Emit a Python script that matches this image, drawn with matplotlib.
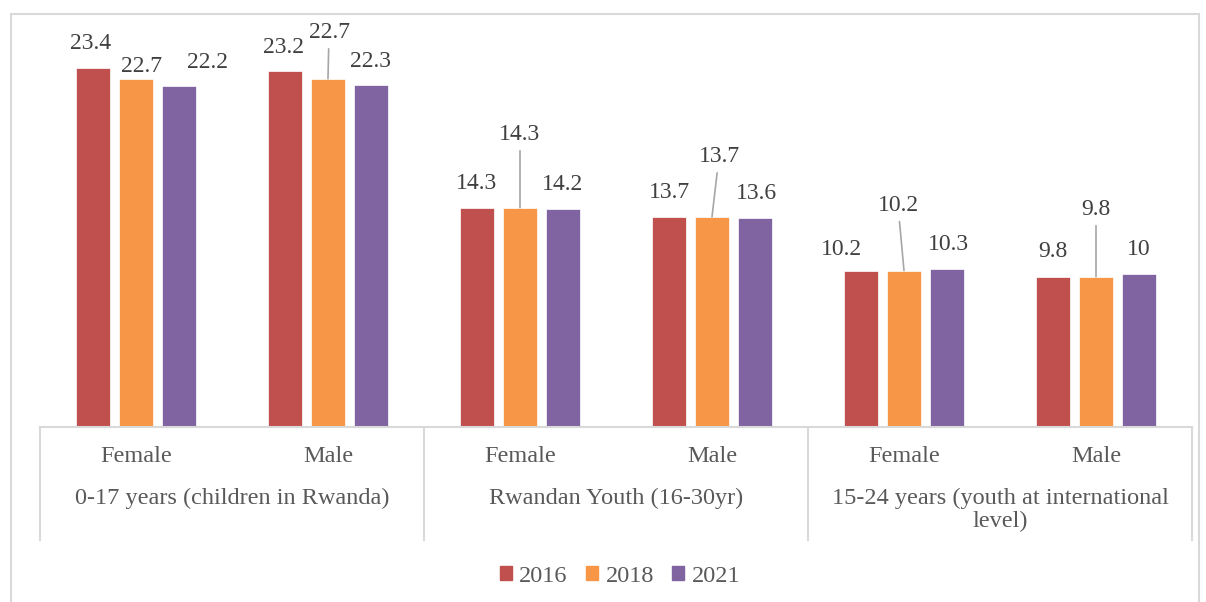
import matplotlib.pyplot as plt
import numpy as np
from matplotlib.patches import Rectangle, Patch

plt.rcParams['font.family'] = ['Liberation Serif', 'DejaVu Serif']

groups = ['0-17 years (children in Rwanda)', 'Rwandan Youth (16-30yr)',
          '15-24 years (youth at international\nlevel)']
sexes = ['Female', 'Male']
years = ['2016', '2018', '2021']
v2016 = [23.4, 23.2, 14.3, 13.7, 10.2, 9.8]
v2018 = [22.7, 22.7, 14.3, 13.7, 10.2, 9.8]
v2021 = [22.2, 22.3, 14.2, 13.6, 10.3, 10]
series = [v2016, v2018, v2021]
colors = ['#C0504D', '#F79646', '#8064A2']

# label offsets in pixels (dx, dy) from the bar top, per year then per bar
label_offsets = [
    [(-2, 25), (-1, 24), (0, 24), (0, 24), (-20, 21), (0, 25)],
    [(6, 12), (1, 46), (0, 73), (7, 60), (-6, 65), (0, 67)],
    [(28, 24), (-1, 23), (0, 25), (1, 25), (1, 24), (0, 24)],
]

fig = plt.figure(figsize=(12.06, 6.02), dpi=100)
ax = fig.add_axes([40 / 1206, 175 / 602, 1152 / 1206, 383.5 / 602])

x = np.arange(len(v2016))
pitch = 0.224
width = 0.177
for k, vals in enumerate(series):
    xs = x + (k - 1) * pitch
    ax.bar(xs, vals, width=width, color=colors[k], edgecolor='white', linewidth=0.5, zorder=2)
    for i, v in enumerate(vals):
        dx, dy = label_offsets[k][i]
        arrow = None
        if dy > 40:
            arrow = dict(arrowstyle='-', color='#a6a6a6', lw=1.2, shrinkA=2, shrinkB=0)
        ax.annotate(f'{v:g}', xy=(xs[i], v), xytext=(dx, dy), textcoords='offset pixels',
                    ha='center', va='center', fontsize=17, color='#404040',
                    arrowprops=arrow)

ax.set_xlim(-0.5, 5.5)
ax.set_ylim(0, 25)
for s in ['left', 'right', 'top']:
    ax.spines[s].set_visible(False)
ax.spines['bottom'].set_color('#d9d9d9')
ax.spines['bottom'].set_linewidth(1.5)
ax.set_xticks([])
ax.set_yticks([])

trans = ax.get_xaxis_transform()
for xb in [-0.5, 1.5, 3.5, 5.5]:
    ax.plot([xb, xb], [0, -0.295], transform=trans, color='#d9d9d9', lw=1.5, clip_on=False)

for i in x:
    ax.text(i, -0.078, sexes[i % 2], transform=trans, ha='center', va='center',
            fontsize=17.5, color='#595959')
for g, name in enumerate(groups):
    ax.text(2 * g + 0.5, -0.158, name, transform=trans, ha='center', va='top',
            fontsize=17.5, color='#595959', linespacing=1.1)

handles = [Patch(color=c, label=y) for c, y in zip(colors, years)]
fig.legend(handles=handles, loc='center', bbox_to_anchor=(620 / 1206, 1 - 576 / 602),
           ncol=3, frameon=False, fontsize=17.5, handlelength=0.5, handleheight=0.5,
           handletextpad=0.3, columnspacing=0.75, labelcolor='#595959')

fig.add_artist(Rectangle((11 / 1206, -0.01), 1188 / 1206, (602 - 14) / 602 + 0.01,
                         transform=fig.transFigure, fill=False, edgecolor='#d9d9d9', lw=1.5))

fig.savefig('out.png', dpi=100)
